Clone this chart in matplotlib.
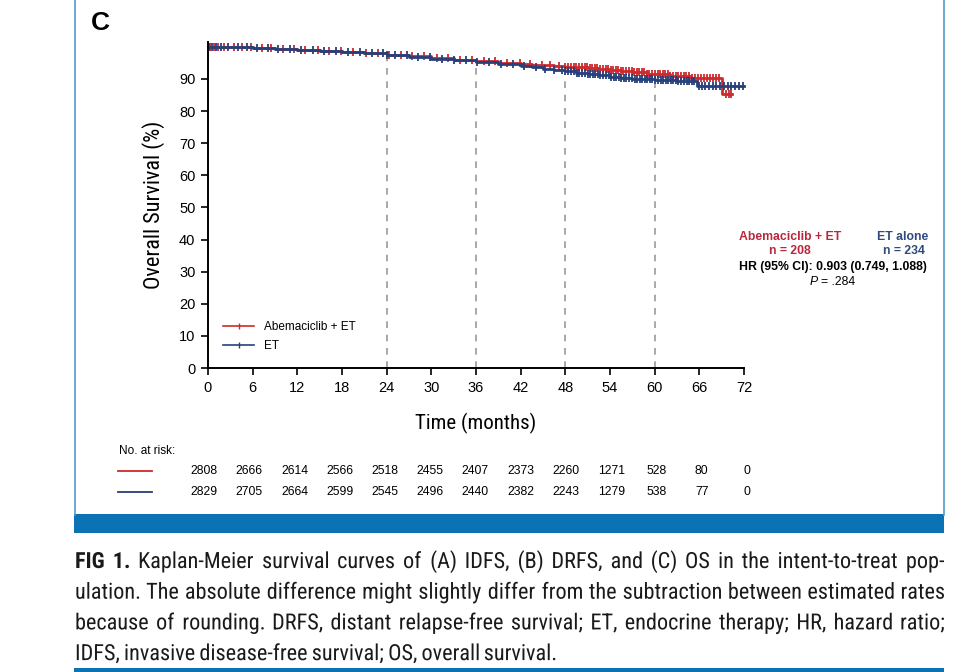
"""
Kaplan-Meier OS panel (C) with risk table and figure caption
"""

import numpy as np
import matplotlib
matplotlib.use('Agg')
import matplotlib.pyplot as plt
from matplotlib import font_manager
from matplotlib.font_manager import FontProperties
from matplotlib.lines import Line2D
from matplotlib.patches import Rectangle, PathPatch
from matplotlib.textpath import TextPath
from matplotlib.transforms import Affine2D

#***************** Data ***************#

# step points (time in months, survival %)
abema_t = [0, 3, 6, 9, 12, 15, 18, 21, 24, 27, 30, 33, 36, 39, 42, 43.5, 45, 46.5, 48, 49.5, 51, 52.5,
           54, 55.5, 57, 59, 62, 64.8, 69.0]
abema_s = [100, 99.8, 99.6, 99.3, 99.0, 98.7, 98.4, 98.0, 97.5, 97.0, 96.4, 96.0, 95.6, 95.1, 94.7, 94.4,
           94.2, 94.0, 93.8, 93.6, 93.4, 93.1, 92.9, 92.6, 92.3, 91.4, 91.0, 90.4, 85.2]
abema_end = 70.4

et_t = [0, 3, 6, 9, 12, 15, 18, 21, 24, 27, 30, 33, 36, 39, 42, 43.5, 45, 46.5, 48, 49.5, 51, 52.5,
        54, 55.5, 57, 60, 63, 65.7]
et_s = [100, 99.8, 99.6, 99.3, 99.0, 98.7, 98.4, 98.0, 97.4, 96.9, 96.3, 95.8, 95.4, 94.7, 94.0, 93.6,
        93.2, 92.9, 92.5, 92.0, 91.6, 91.1, 90.6, 90.2, 89.9, 89.6, 89.3, 87.9]
et_end = 72.0

# censoring times
abema_cens = [0.3, 0.8, 1.4, 2.1, 3.5, 4.6, 5.8, 7.2, 8.5, 10.1, 11.6, 13.0, 14.8, 16.3, 17.9, 19.5,
              21.2, 22.8, 24.3, 25.9, 27.4, 29.0, 30.7, 32.3, 33.8, 35.4, 37.1, 38.6, 40.2, 41.9,
              43.3, 44.8, 46.0, 47.1, 48.0, 48.4, 48.8, 49.2, 49.5, 49.9, 50.2, 50.6, 50.9, 51.3,
              51.6, 52.0, 52.3, 52.7, 53.0, 53.4, 53.7, 54.1, 54.4, 54.8, 55.1, 55.5, 55.8, 56.2,
              56.5, 56.9, 57.2, 57.6, 57.9, 58.3, 58.6, 59.0, 59.3, 59.7, 60.0, 60.4, 60.7, 61.1,
              61.4, 61.8, 62.1, 62.5, 62.8, 63.2, 63.5, 63.9, 64.2, 64.6, 65.0, 65.4, 65.8, 66.2,
              66.6, 67.0, 67.4, 67.8, 68.2, 68.6, 69.6, 70.0, 70.3]
et_cens = [0.2, 0.6, 1.1, 1.8, 2.7, 4.0, 5.2, 6.6, 8.0, 9.4, 11.0, 12.5, 14.1, 15.6, 17.2, 18.8,
           20.4, 22.0, 23.5, 24.0, 25.1, 26.7, 28.2, 29.8, 31.4, 33.0, 34.6, 36.2, 37.8, 39.4,
           41.0, 42.5, 44.0, 45.3, 46.5, 47.5, 48.0, 48.4, 48.8, 49.2, 49.6, 49.9, 50.3, 50.6,
           51.0, 51.3, 51.7, 52.0, 52.4, 52.7, 53.1, 53.4, 53.8, 54.1, 54.5, 54.8, 55.2, 55.5,
           55.9, 56.2, 56.6, 56.9, 57.3, 57.6, 58.0, 58.3, 58.7, 59.0, 59.4, 59.7, 60.1, 60.4,
           60.8, 61.1, 61.5, 61.8, 62.2, 62.5, 62.9, 63.2, 63.6, 63.9, 64.3, 64.6, 65.0, 65.3,
           66.0, 66.4, 66.8, 67.3, 67.8, 68.3, 68.8, 69.3, 69.8, 70.3, 70.8, 71.3, 71.8]

risk_times = [0, 6, 12, 18, 24, 30, 36, 42, 48, 54, 60, 66, 72]
risk_abema = [2808, 2666, 2614, 2566, 2518, 2455, 2407, 2373, 2260, 1271, 528, 80, 0]
risk_et = [2829, 2705, 2664, 2599, 2545, 2496, 2440, 2382, 2243, 1279, 538, 77, 0]

landmarks = [24, 36, 48, 60]

caption_lines = [
    "FIG 1. Kaplan-Meier survival curves of (A) IDFS, (B) DRFS, and (C) OS in the intent-to-treat pop-",
    "ulation. The absolute difference might slightly differ from the subtraction between estimated rates",
    "because of rounding. DRFS, distant relapse-free survival; ET, endocrine therapy; HR, hazard ratio;",
    "IDFS, invasive disease-free survival; OS, overall survival.",
]

RED = '#cc2a2e'
BLUE = '#28407a'
RED_TXT = '#b8283c'
BLUE_TXT = '#2f4a7c'
FRAME = '#0b72b4'

#***************** Functions ***************#

def fx(px):
	return px / 970.0

def fy(py):
	return 1 - py / 672.0

def surv_at(ts, ss, t):
	i = np.searchsorted(ts, t, side='right') - 1
	return np.asarray(ss)[i]

names = {f.name for f in font_manager.fontManager.ttflist}
COND = 'DejaVu Sans'
for cand in ['Roboto Condensed', 'Liberation Sans Narrow', 'DejaVu Sans Condensed']:
	if cand in names:
		COND = cand
		break
SANS = 'Liberation Sans'

plt.rcParams['font.family'] = [SANS, 'DejaVu Sans']

fig = plt.figure(figsize=(9.7, 6.72), dpi=100)
ax = fig.add_axes([fx(208), fy(368), fx(744) - fx(208), (368 - 42) / 672.0])

# curves
for ts, ss, tend, cens, col, lab in [(abema_t, abema_s, abema_end, abema_cens, RED, 'Abemaciclib + ET'),
                                     (et_t, et_s, et_end, et_cens, BLUE, 'ET')]:
	ax.step(list(ts) + [tend], list(ss) + [ss[-1]], where='post', color=col, lw=2.0, clip_on=False)
	cy = [surv_at(ts, ss, c) for c in cens]
	ax.plot(cens, cy, ls='none', marker='|', ms=6, mew=1.3, color=col, clip_on=False)
	ax.plot([], [], color=col, lw=1.2, marker='|', ms=5, markevery=[1], label=lab)

# landmark dashes
for lm in landmarks:
	top = min(surv_at(abema_t, abema_s, lm), surv_at(et_t, et_s, lm)) - 1.2
	ax.plot([lm, lm], [0, top], color='#9a9a9a', lw=1.2, ls=(0, (4, 4)), zorder=0)

ax.set_xlim(0, 72)
ax.set_ylim(0, 101.5)
ax.set_xticks(risk_times)
ax.set_yticks(range(0, 100, 10))
ax.spines['top'].set_visible(False)
ax.spines['right'].set_visible(False)
ax.spines['left'].set_linewidth(1.4)
ax.spines['bottom'].set_linewidth(1.4)
ax.tick_params(length=5, width=1.2, labelsize=10.5, pad=4)
ax.set_xlabel('Time (months)', fontsize=15, family=COND, labelpad=13)
ax.set_ylabel('Overall Survival (%)', fontsize=16, family=COND, labelpad=10)

leg = ax.legend(loc='lower left', bbox_to_anchor=(0.02, 0.035), frameon=False, fontsize=8.5,
                handlelength=2.6, handletextpad=0.8, labelspacing=0.55, borderaxespad=0)

# HR annotation
fs_hr = 8.8
fig.text(fx(790), fy(237), 'Abemaciclib + ET', color=RED_TXT, fontsize=fs_hr, weight='bold', ha='center', va='center')
fig.text(fx(903), fy(237), 'ET alone', color=BLUE_TXT, fontsize=fs_hr, weight='bold', ha='center', va='center')
fig.text(fx(790), fy(251), 'n = 208', color=RED_TXT, fontsize=fs_hr, weight='bold', ha='center', va='center')
fig.text(fx(904), fy(251), 'n = 234', color=BLUE_TXT, fontsize=fs_hr, weight='bold', ha='center', va='center')
fig.text(fx(833), fy(267), 'HR (95% CI): 0.903 (0.749, 1.088)', color='black', fontsize=fs_hr, weight='bold',
         ha='center', va='center')
fig.text(fx(818), fy(282), 'P', fontsize=fs_hr, style='italic', ha='right', va='center')
fig.text(fx(821), fy(282), '= .284', fontsize=fs_hr, ha='left', va='center')

# panel letter
fig.text(fx(91), fy(23), 'C', fontsize=19, weight='bold', ha='left', va='center')

# risk table
fig.text(fx(119), fy(451), 'No. at risk:', fontsize=8.5, ha='left', va='center')
for py, col, vals in [(471, RED, risk_abema), (492, BLUE, risk_et)]:
	fig.add_artist(Line2D([fx(118), fx(152)], [fy(py), fy(py)], color=col, lw=1.3))
	for t, v in zip(risk_times, vals):
		xpix = 204 + (t / 6.0) * 45.25
		fig.text(fx(xpix), fy(py), str(v), fontsize=8.8, ha='center', va='center')

# frame
fig.add_artist(Line2D([fx(75), fx(75)], [fy(0), fy(515)], color='#4f9cc6', lw=1.2))
fig.add_artist(Line2D([fx(944), fx(944)], [fy(0), fy(515)], color='#4f9cc6', lw=1.2))
fig.add_artist(Rectangle((fx(74), fy(533)), fx(944) - fx(74), (533 - 514) / 672.0, color=FRAME, lw=0))
fig.add_artist(Rectangle((fx(74), 0), fx(944) - fx(74), 4 / 672.0, color=FRAME, lw=0))

# caption: glyph paths on a shared baseline, justified word by word
renderer = fig.canvas.get_renderer()
x0, x1 = 75, 944
fp_reg = FontProperties(family=COND)
fp_bold = FontProperties(family=COND, weight='bold')
probe = fig.text(0, 0, caption_lines[1], fontsize=13.5, fontproperties=fp_reg)
probe.set_fontsize(13.5)
fs_cap = 13.5 * (x1 - x0 - 8) / probe.get_window_extent(renderer).width
probe.remove()
scale = fig.dpi / 72.0

def word_width(w, fp):
	tp = TextPath((0, 0), w, size=fs_cap, prop=fp)
	return tp, tp.get_extents().x1 * scale

space_w = (word_width('a a', fp_reg)[1] - word_width('aa', fp_reg)[1])

for k, line in enumerate(caption_lines):
	ybase = 672 - (568 + 30.7 * k)
	words = line.split(' ')
	items = []
	for j, w in enumerate(words):
		fp = fp_bold if (k == 0 and j < 2) else fp_reg
		items.append(word_width(w, fp))
	total = sum(wd for _, wd in items)
	if k < len(caption_lines) - 1:
		gap = (x1 - x0 - total) / (len(words) - 1)
	else:
		gap = space_w
	xpos = x0
	for tp, wd in items:
		tr = Affine2D().scale(scale).translate(xpos, ybase)
		fig.add_artist(PathPatch(tp, transform=tr, facecolor='#1a1a1a', edgecolor='none', lw=0))
		xpos += wd + gap

fig.savefig('out.png', dpi=100)
